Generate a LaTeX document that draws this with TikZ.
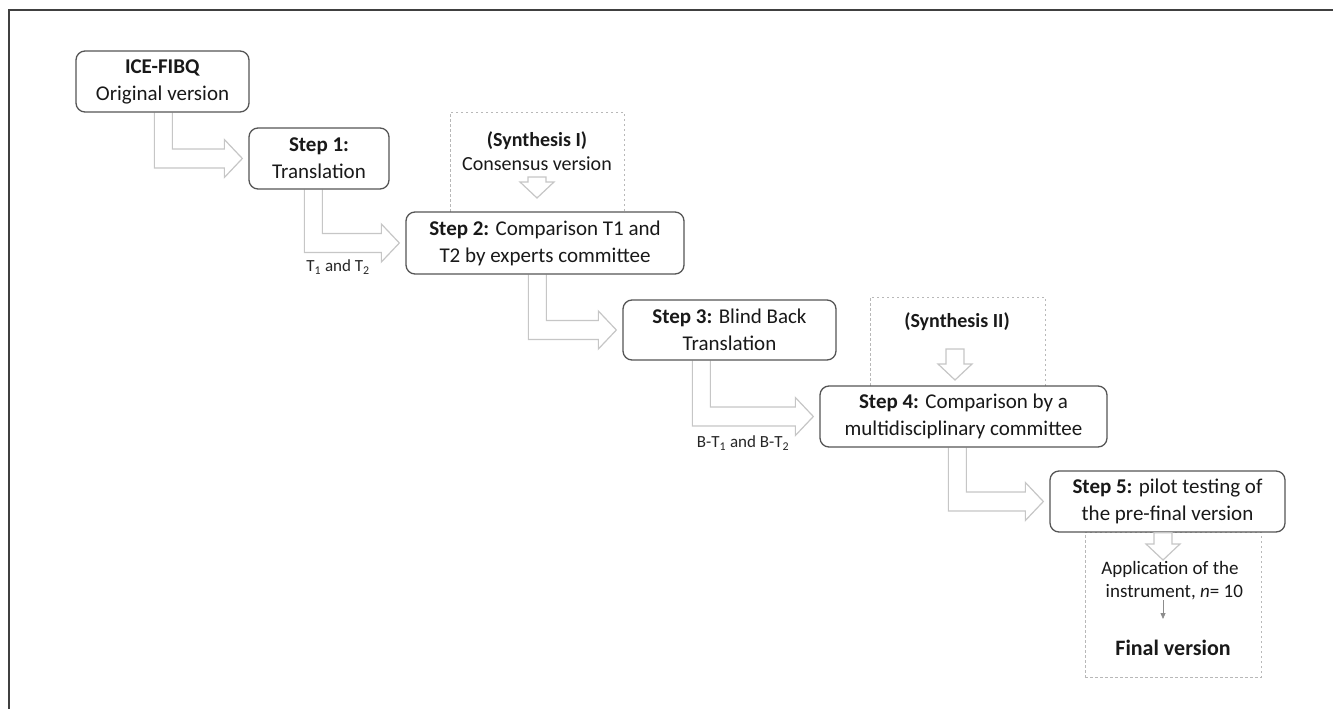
\documentclass[tikz,border=0pt]{standalone}
\usepackage{fontspec}
\setmainfont{Carlito}
\usetikzlibrary{calc, arrows.meta, backgrounds}

\definecolor{boxline}{HTML}{555555}
\definecolor{arrline}{HTML}{C6C6C6}
\definecolor{dashline}{HTML}{B8B8B8}

% hollow elbow arrow: from box #1 (its lower left part) to box #2, #3 = shift of the shaft
\newcommand{\elbow}[3]{%
  \draw[hollow] let \p1=(#1.south west), \p2=(#2.west) in
    (\x1+#3pt,\y1) -- (\x1+#3pt,\y2-9.5pt) -- (\x2-24pt,\y2-9.5pt) -- (\x2-24pt,\y2-19pt)
    -- (\x2-6pt,\y2) -- (\x2-24pt,\y2+19pt) -- (\x2-24pt,\y2+9.5pt)
    -- (\x1+#3pt+18pt,\y2+9.5pt) -- (\x1+#3pt+18pt,\y1);}
% hollow arrow pointing down
\newcommand{\hdown}[2]{%
  \draw[hollow] let \p1=(#1), \p2=(#2) in
    (\x2-9pt,\y1) -- (\x2-9pt,\y2+16pt) -- (\x2-17pt,\y2+16pt) -- (\x2,\y2)
    -- (\x2+17pt,\y2+16pt) -- (\x2+9pt,\y2+16pt) -- (\x2+9pt,\y1) -- cycle;}

\begin{document}
\begin{tikzpicture}[x=1pt, y=-1pt,
    stepbox/.style={draw=boxline, line width=1.3pt, rounded corners=9pt, fill=white,
                    align=center, inner sep=0pt, text=black!90,
                    font=\fontsize{21}{27}\selectfont},
    hollow/.style={draw=arrline, line width=1.2pt, fill=white},
    dashbox/.style={draw=dashline, line width=1pt, dash pattern=on 2.5pt off 2.5pt,
                    inner sep=0pt},
    synth/.style={align=center, inner sep=0pt, text=black!90,
                  font=\fontsize{20}{24}\selectfont},
    lbl/.style={inner sep=0pt, text=black!85, font=\fontsize{17}{20}\selectfont}]
    \useasboundingbox (0,0) rectangle (1333,709);
    \draw[line width=1.8pt, black!75] (9,709) -- (9,10) -- (1333,10);

    % dashed frames
    \node[dashbox, minimum width=174, minimum height=100] (dashI) at (537,162) {};
    \node[dashbox, minimum width=175, minimum height=89] (dashII) at (957.5,341.5) {};
    \node[dashbox, minimum width=176, minimum height=145] (dashfin) at (1173,604.5) {};

    % steps
    \node[stepbox, minimum width=173, minimum height=61] (orig) at (162.5,81.5)
        {\textbf{ICE-FIBQ}\\Original version};
    \node[stepbox, minimum width=140, minimum height=61] (stepone) at (319,158.5)
        {\textbf{Step 1:}\\Translation};
    \node[stepbox, minimum width=278, minimum height=62] (steptwo) at (545,243)
        {\textbf{Step 2:} Comparison T1 and\\T2 by experts committee};
    \node[stepbox, minimum width=213, minimum height=60] (stepthree) at (729.5,330)
        {\textbf{Step 3:} Blind Back\\Translation};
    \node[stepbox, minimum width=287, minimum height=61] (stepfour) at (963.5,416.5)
        {\textbf{Step 4:} Comparison by a\\multidisciplinary committee};
    \node[stepbox, minimum width=235, minimum height=61] (stepfive) at (1167.5,501.5)
        {\textbf{Step 5:} pilot testing of\\the pre-final version};

    % texts in the dashed frames
    \node[synth] (synI) at (537,151) {\textbf{(Synthesis I)}\\Consensus version};
    \node[synth] (synII) at (957,322) {\textbf{(Synthesis II)}};
    \node[synth, font=\fontsize{19}{23}\selectfont] (app) at (1170,580.5)
        {Application of the\\\ \ instrument, \textit{n}= 10};
    \node[synth, font=\fontsize{22}{27}\selectfont] (final) at (1173,648)
        {\textbf{Final version}};

    % labels
    \node[lbl] (tlbl) at (338,267) {T\textsubscript{1} and T\textsubscript{2}};
    \node[lbl] (btlbl) at (743,443) {B-T\textsubscript{1} and B-T\textsubscript{2}};

    \coordinate (synItop) at (537,177);
    \coordinate (synItip) at (537,198);
    \coordinate (synIItop) at (955,349);
    \coordinate (synIItip) at (955,380);
    \coordinate (fintip) at (1163,560);
    \coordinate (append) at (1163,619);

    \begin{scope}[on background layer]
        \elbow{orig}{stepone}{79}
        \elbow{stepone}{steptwo}{56}
        \elbow{steptwo}{stepthree}{123}
        \elbow{stepthree}{stepfour}{70}
        \elbow{stepfour}{stepfive}{129}
    \end{scope}
    \hdown{synItop}{synItip}
    \hdown{synIItop}{synIItip}
    \hdown{stepfive.south -| fintip}{fintip}
    \draw[black!45, line width=0.8pt, -{Triangle[length=6pt, width=5pt]}]
        (app.south -| append) -- (append);
\end{tikzpicture}
\end{document}
